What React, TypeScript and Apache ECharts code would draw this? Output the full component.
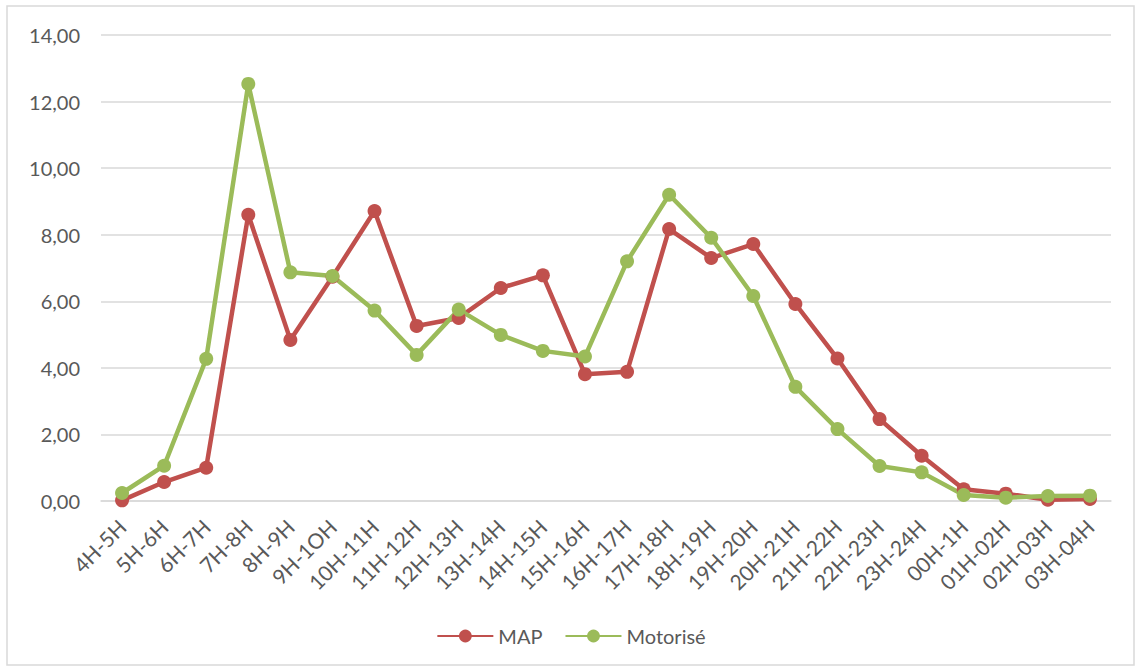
import React, { useEffect, useRef } from "react";
import * as echarts from "echarts";

const categories = ["4H-5H","5H-6H","6H-7H","7H-8H","8H-9H","9H-1OH","10H-11H","11H-12H","12H-13H","13H-14H","14H-15H","15H-16H","16H-17H","17H-18H","18H-19H","19H-20H","20H-21H","21H-22H","22H-23H","23H-24H","00H-1H","01H-02H","02H-03H","03H-04H"];
const mapValues = [0.02,0.57,1.0,8.6,4.84,6.74,8.71,5.26,5.5,6.4,6.78,3.81,3.88,8.17,7.3,7.72,5.92,4.28,2.46,1.36,0.35,0.22,0.04,0.06];
const motoValues = [0.24,1.06,4.27,12.53,6.87,6.76,5.72,4.39,5.75,4.99,4.51,4.34,7.2,9.2,7.91,6.16,3.43,2.16,1.05,0.86,0.18,0.1,0.15,0.16];
const yTicks = { min: 0, max: 14, interval: 2 };

export default function App() {
  const ref = useRef<HTMLDivElement>(null);
  useEffect(() => {
    const chart = echarts.init(ref.current!, null, { renderer: "svg" });
    const font = "Lato, 'Open Sans', sans-serif";
    chart.setOption({
      animation: false,
      backgroundColor: "#ffffff",
      textStyle: { fontFamily: font },
      graphic: [
        {
          type: "rect",
          shape: { x: 7, y: 6, width: 1127, height: 659 },
          style: { fill: "none", stroke: "#d9d9d9", lineWidth: 1.5 },
          silent: true,
        },
      ],
      grid: { left: 101, right: 31, top: 35, bottom: 169 },
      legend: {
        bottom: 19,
        left: "center",
        itemWidth: 56,
        itemHeight: 16,
        itemGap: 22,
        textStyle: { fontSize: 20, color: "#595959", fontFamily: font },
        data: ["MAP", "Motorisé"],
      },
      xAxis: {
        type: "category",
        data: categories,
        boundaryGap: true,
        axisLine: { lineStyle: { color: "#d9d9d9", width: 1.5 } },
        axisTick: { show: false },
        axisLabel: {
          rotate: 45,
          interval: 0,
          color: "#595959",
          fontSize: 21,
          fontFamily: font,
          margin: 22,
        },
      },
      yAxis: {
        type: "value",
        min: yTicks.min,
        max: yTicks.max,
        interval: yTicks.interval,
        axisLine: { show: false },
        axisTick: { show: false },
        splitLine: { lineStyle: { color: "#d9d9d9", width: 1.5 } },
        axisLabel: {
          color: "#595959",
          fontSize: 20,
          fontFamily: font,
          margin: 21,
          formatter: (v: number) => v.toFixed(2).replace(".", ","),
        },
      },
      series: [
        {
          name: "MAP",
          type: "line",
          data: mapValues,
          color: "#C0504D",
          lineStyle: { width: 4.5, color: "#C0504D" },
          itemStyle: { color: "#C0504D" },
          symbol: "circle",
          symbolSize: 14,
        },
        {
          name: "Motorisé",
          type: "line",
          data: motoValues,
          color: "#9BBB59",
          lineStyle: { width: 4.5, color: "#9BBB59" },
          itemStyle: { color: "#9BBB59" },
          symbol: "circle",
          symbolSize: 14,
        },
      ],
    });
    return () => chart.dispose();
  }, []);
  return (
    <div
      ref={ref}
      style={{ position: "fixed", left: 0, top: 0, width: 1142, height: 670 }}
    />
  );
}
